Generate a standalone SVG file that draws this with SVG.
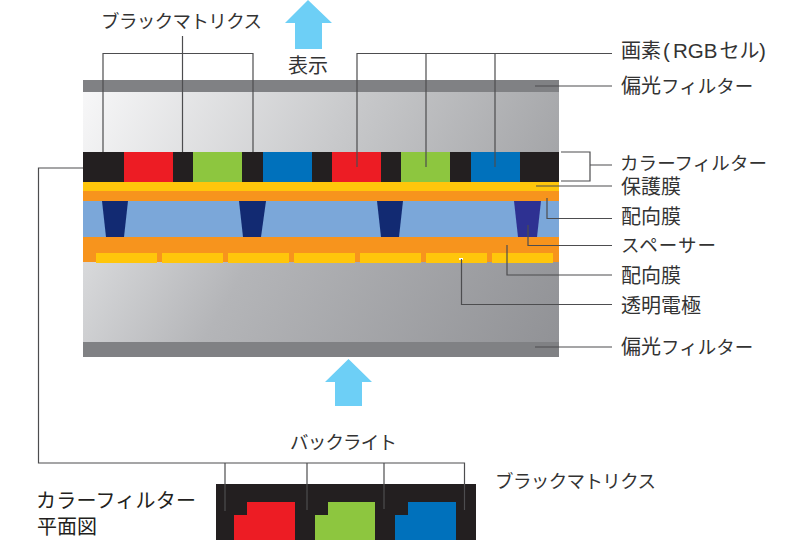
<svg xmlns="http://www.w3.org/2000/svg" width="808" height="540" viewBox="0 0 808 540">
<style>
text{font-family:"Noto Sans CJK JP","Noto Sans",sans-serif;font-size:18.500px;fill:#333;font-weight:400}
.j{font-size:20px}
.h{font-size:20px;fill:#231f20}
.lat{font-family:"Liberation Sans",Arial,sans-serif;font-size:20.500px}
.l{fill:none;stroke:#4d4d4f;stroke-width:1.2}
.k{fill:#231f20}.r{fill:#ed1c24}.g{fill:#8dc63f}.u{fill:#0071bc}
.y{fill:#ffc60b}.o{fill:#f7941d}.s{fill:#122a72}.a{fill:#6dcff6}
</style>
<defs>
<linearGradient id="g1" gradientUnits="userSpaceOnUse" x1="83" y1="92" x2="500" y2="300"><stop offset="0" stop-color="#f7f7f8"/><stop offset=".53" stop-color="#c8c9cb"/><stop offset="1" stop-color="#a2a3a6"/></linearGradient>
<linearGradient id="g2" gradientUnits="userSpaceOnUse" x1="83" y1="262" x2="500" y2="500"><stop offset="0" stop-color="#d8d9db"/><stop offset=".3" stop-color="#b4b5b8"/><stop offset="1" stop-color="#8e8f93"/></linearGradient>
</defs>
<g id="panel">
<rect x="83" y="80" width="476" height="12" fill="#808184"/>
<rect x="83" y="92" width="476" height="60" fill="url(#g1)"/>
<rect x="83" y="262" width="476" height="80" fill="url(#g2)"/>
<rect x="83" y="342" width="476" height="15" fill="#808184"/>
</g>
<g id="color-filter">
<rect class="k" x="83" y="152" width="476" height="30"/>
<rect class="r" x="124" y="152" width="49" height="30"/><rect class="g" x="193" y="152" width="49" height="30"/><rect class="u" x="263" y="152" width="49" height="30"/>
<rect class="r" x="332" y="152" width="49" height="30"/><rect class="g" x="401" y="152" width="49" height="30"/><rect class="u" x="471" y="152" width="49" height="30"/>
</g>
<g id="layers">
<rect class="y" x="83" y="182" width="476" height="9"/>
<rect class="o" x="83" y="191" width="476" height="10"/>
<rect x="83" y="201" width="476" height="36" fill="#7ba7d9"/>
<rect class="o" x="83" y="237" width="476" height="25"/>
</g>
<g id="spacers">
<polygon class="s" points="102,201 128,201 124,237 106,237"/>
<polygon class="s" points="239,201 266,201 261,237 243,237"/>
<polygon class="s" points="377,201 403,201 399,237 381,237"/>
<polygon fill="#2e3192" points="514,201 541,201 537,237 518,237"/>
</g>
<g id="electrodes">
<rect class="y" x="96" y="253" width="61" height="10"/><rect class="y" x="162" y="253" width="61" height="10"/><rect class="y" x="228" y="253" width="61" height="10"/><rect class="y" x="294" y="253" width="61" height="10"/><rect class="y" x="360" y="253" width="61" height="10"/><rect class="y" x="426" y="253" width="61" height="10"/><rect class="y" x="492" y="253" width="61" height="10"/>
<rect x="459" y="258" width="4" height="2" fill="#fff"/>
</g>
<g id="plan">
<rect class="k" x="216" y="484" width="260" height="56"/>
<polygon class="r" points="247,502 295,502 295,540 234,540 234,515 247,515"/>
<polygon class="g" points="328,502 375,502 375,540 315,540 315,515 328,515"/>
<polygon class="u" points="408,502 456,502 456,540 395,540 395,515 408,515"/>
</g>
<g id="arrow-up"><polygon class="a" points="308,0 332,23 322,23 322,49 295,49 295,23 285,23"/></g>
<g id="arrow-back"><polygon class="a" points="348.500,359 372,382 362,382 362,406 335,406 335,382 325,382"/></g>
<g id="connectors">
<path class="l" d="M103 152V53.500H253V152M182.500 36V152"/>
<path class="l" d="M357 167V53.500H612M426 167V53.500M495 167V53.500"/>
<path class="l" d="M535 86H612M561 152H590V181H561M590 165H612M536 186H612M547 198V218.500H612M528 225V245.500H612M507 245V275H612M461.500 259V304.500H612M535 347H612"/>
<path class="l" d="M83 168H38.500V463H464.500V510M225 463V511M307 463V510M384 463V509"/>
</g>
<g id="labels">
<text x="101" y="28" textLength="161">ブラックマトリクス</text>
<text class="j" x="288" y="73">表示</text>
<text class="j" y="58"><tspan x="621">画素</tspan><tspan class="lat" x="663">(</tspan><tspan class="lat" x="673">RGB</tspan><tspan x="719.500">セル</tspan><tspan class="lat" x="759">)</tspan></text>
<text y="92.500"><tspan class="j" x="621">偏光</tspan><tspan x="661">フィルター</tspan></text>
<text x="620" y="170" textLength="147">カラーフィルター</text>
<text class="j" x="621" y="193.500">保護膜</text>
<text class="j" x="621" y="223.500">配向膜</text>
<text x="621" y="252" textLength="95">スペーサー</text>
<text class="j" x="621" y="282.500">配向膜</text>
<text class="j" x="621" y="312.500">透明電極</text>
<text y="353.500"><tspan class="j" x="621">偏光</tspan><tspan x="661">フィルター</tspan></text>
<text x="290" y="449" textLength="107">バックライト</text>
<text x="495" y="488" textLength="161">ブラックマトリクス</text>
<text class="h" x="36" y="508" textLength="160">カラーフィルター</text>
<text class="h" x="37" y="534">平面図</text>
</g>
</svg>
